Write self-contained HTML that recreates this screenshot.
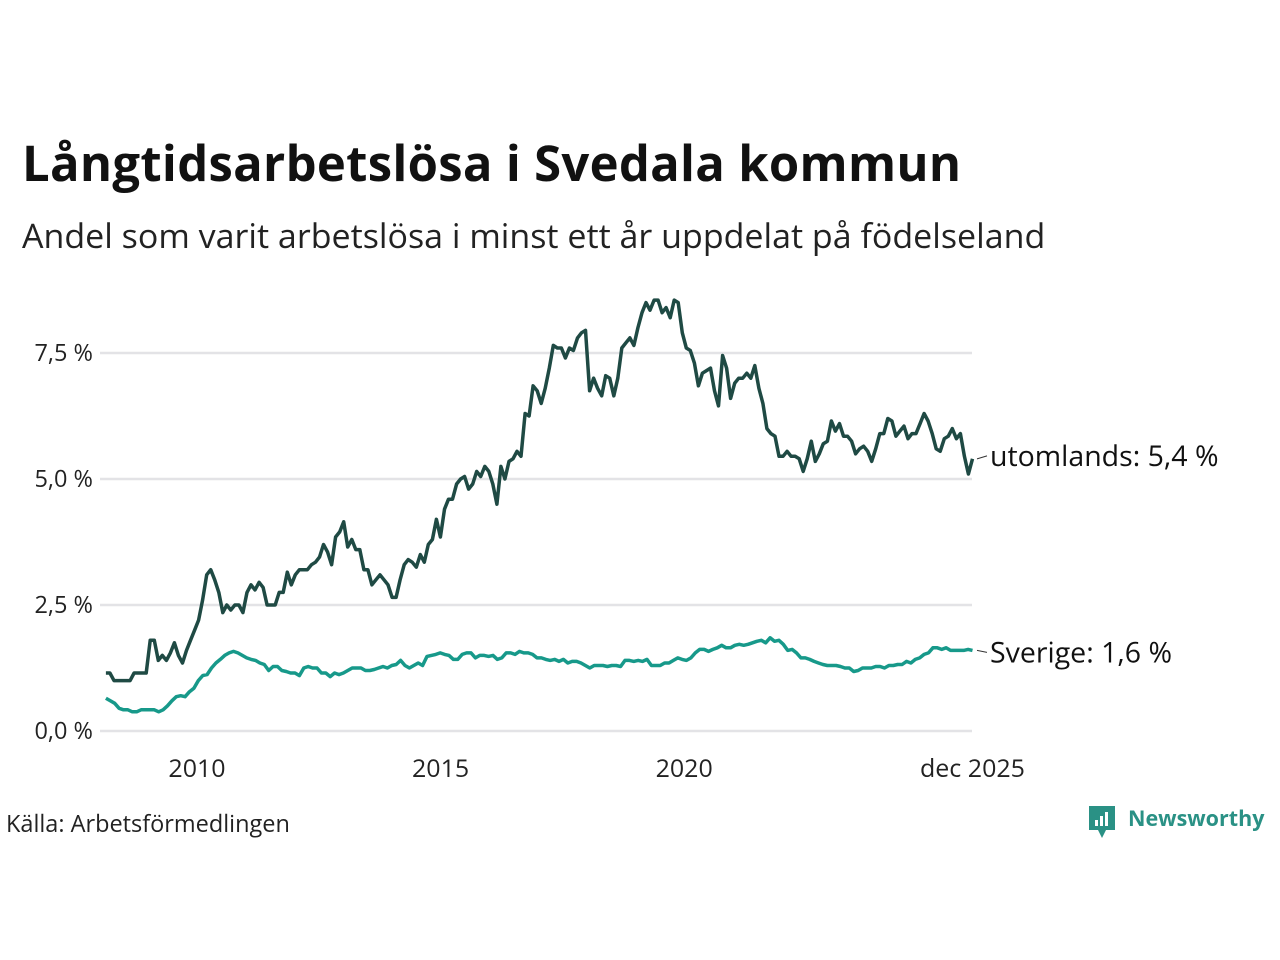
<!DOCTYPE html>
<html><head><meta charset="utf-8">
<style>
body{margin:0;background:#fff;font-family:"Open Sans","Liberation Sans",sans-serif;}
#wrap{position:relative;width:1280px;height:960px;overflow:hidden;}
.t{position:absolute;white-space:nowrap;color:#111;}
</style></head><body>
<div id="wrap">
<div class="t" style="left:22px;top:130px;font-size:49px;font-weight:bold;letter-spacing:0.3px">Långtidsarbetslösa i Svedala kommun</div>
<div class="t" style="left:22px;top:212px;font-size:34px;color:#222">Andel som varit arbetslösa i minst ett år uppdelat på födelseland</div>
<svg id="chart" width="1280" height="960" style="position:absolute;left:0;top:0"></svg>
<div class="t" style="left:6px;top:807px;font-size:23.5px;color:#222">Källa: Arbetsförmedlingen</div>
<div style="position:absolute;left:1088px;top:804px;">
<svg width="30" height="36" style="position:absolute;left:0;top:0"><path d="M1 2h26v24h-9l-4 8-4-8H1z" fill="#2a9185"/><rect x="7" y="16" width="3" height="6" fill="#fff"/><rect x="12" y="12" width="3" height="10" fill="#fff"/><rect x="17" y="8" width="3" height="14" fill="#fff"/></svg>
<span class="t" style="left:40px;top:0;font-size:21.5px;font-weight:bold;color:#2a9185">Newsworthy</span>
</div>
</div>
<script>
const utomlands=[1.15,1.15,1.0,1.0,1.0,1.0,1.0,1.15,1.15,1.15,1.15,1.8,
1.8,1.4,1.5,1.4,1.55,1.75,1.5,1.35,1.6,1.8,2.0,2.2,
2.6,3.1,3.2,3.0,2.75,2.35,2.5,2.4,2.5,2.5,2.35,2.75,2.9,2.8,2.95,2.85,2.5,2.5,2.5,2.75,2.75,3.15,2.9,3.1,3.2,3.2,3.2,3.3,3.35,3.45,3.7,3.55,3.3,3.85,3.95,4.15,3.65,3.8,3.6,3.6,3.2,3.2,2.9,3.0,3.1,3.0,2.9,2.65,2.65,3.0,3.3,3.4,3.35,3.25,3.5,3.35,3.7,3.8,4.2,3.85,4.4,4.6,4.6,4.9,5.0,5.05,4.8,4.9,5.15,5.05,5.25,5.15,4.9,4.5,5.25,5.0,5.35,5.4,5.55,5.45,6.3,6.25,6.85,6.75,6.5,6.8,7.2,7.65,7.6,7.6,7.4,7.6,7.55,7.8,7.9,7.95,6.75,7.0,6.8,6.65,7.05,7.0,6.65,7.0,7.6,7.7,7.8,7.65,8.0,8.3,8.5,8.35,8.55,8.55,8.3,8.4,8.2,8.55,8.5,7.9,7.6,7.55,7.3,6.85,7.1,7.15,7.2,6.75,6.45,7.45,7.2,6.6,6.9,7.0,7.0,7.1,7.0,7.25,6.8,6.5,6.0,5.9,5.85,5.45,5.45,5.55,5.45,5.45,5.4,5.15,5.4,5.75,5.35,5.5,5.7,5.75,6.15,5.95,6.1,5.85,5.85,5.75,5.5,5.6,5.65,5.55,5.35,5.6,5.9,5.9,6.2,6.15,5.85,5.95,6.05,5.8,5.9,5.9,6.1,6.3,6.15,5.9,5.6,5.55,5.8,5.85,6.0,5.8,5.9,5.45,5.1,5.4];
const sverige=[0.65,0.6,0.55,0.45,0.42,0.42,0.38,0.38,0.42,0.42,0.42,0.42,0.38,0.42,0.5,0.6,0.68,0.7,0.68,0.78,0.85,1.0,1.1,1.12,1.25,1.35,1.42,1.5,1.55,1.58,1.55,1.5,1.45,1.42,1.4,1.35,1.32,1.2,1.28,1.28,1.2,1.18,1.15,1.15,1.1,1.25,1.28,1.25,1.25,1.15,1.15,1.08,1.15,1.12,1.15,1.2,1.25,1.25,1.25,1.2,1.2,1.22,1.25,1.28,1.25,1.3,1.32,1.4,1.3,1.25,1.3,1.35,1.3,1.48,1.5,1.52,1.55,1.52,1.5,1.42,1.42,1.52,1.55,1.55,1.45,1.5,1.5,1.48,1.5,1.42,1.45,1.55,1.55,1.52,1.58,1.55,1.55,1.52,1.45,1.45,1.42,1.4,1.42,1.38,1.42,1.35,1.38,1.38,1.35,1.3,1.25,1.3,1.3,1.3,1.28,1.3,1.3,1.28,1.4,1.4,1.38,1.4,1.38,1.42,1.3,1.3,1.3,1.35,1.35,1.4,1.45,1.42,1.4,1.45,1.55,1.62,1.62,1.58,1.62,1.65,1.7,1.65,1.65,1.7,1.72,1.7,1.72,1.75,1.78,1.8,1.75,1.85,1.78,1.8,1.72,1.6,1.62,1.55,1.45,1.45,1.42,1.38,1.35,1.32,1.3,1.3,1.3,1.28,1.25,1.25,1.18,1.2,1.25,1.25,1.25,1.28,1.28,1.25,1.3,1.3,1.32,1.32,1.38,1.35,1.42,1.45,1.52,1.55,1.65,1.65,1.62,1.65,1.6,1.6,1.6,1.6,1.62,1.6];
const yTicks=[0,2.5,5,7.5];
const yTickLabels=["0,0 %","2,5 %","5,0 %","7,5 %"];
const xTicks=[2010,2015,2020,2025.917];
const xTickLabels=["2010","2015","2020","dec 2025"];
const startDate=2008.13;
const endDate=2025.917;
const NS="http://www.w3.org/2000/svg";
const svg=document.getElementById('chart');
function xS(t){return 197+(t-2010)*48.72;}
function yS(v){return 731-v*50.4;}
function mk(tag,attrs){const e=document.createElementNS(NS,tag);for(const k in attrs)e.setAttribute(k,attrs[k]);svg.appendChild(e);return e;}
yTicks.forEach((v,i)=>{
 const g=mk('line',{x1:100,x2:972,y1:yS(v),y2:yS(v),stroke:'#e3e3e6','stroke-width':2.5});
 
 
 const t=mk('text',{x:93,y:yS(v)+8,'text-anchor':'end','font-size':23.5,fill:'#222','font-family':'"Open Sans","Liberation Sans",sans-serif'});
 t.textContent=yTickLabels[i];
 
 
});
xTicks.forEach((v,i)=>{
 const t=mk('text',{x:xS(v),y:777,'text-anchor':'middle','font-size':25,fill:'#222','font-family':'"Open Sans","Liberation Sans",sans-serif'});
 t.textContent=xTickLabels[i];
 
 
});
function drawLine(arr,color,name){
 const n=arr.length;
 const d=arr.map((v,i)=>(i?'L':'M')+xS(startDate+i*(endDate-startDate)/(n-1)).toFixed(1)+' '+yS(v).toFixed(1)).join(' ');
 const p=mk('path',{d:d,fill:'none',stroke:color,'stroke-width':3.5,'stroke-linejoin':'round'});
 
 
}
drawLine(sverige,'#17998a','sverige-line');
drawLine(utomlands,'#1f4a44','utomlands-line');
function label(arr,txt,name,dy){
 const y=yS(arr[arr.length-1]);
 const l=mk('line',{x1:977,x2:987,y1:y,y2:y+dy,stroke:'#333','stroke-width':1});
 
 
 const t=mk('text',{x:990,y:y+dy+10,'font-size':28.5,fill:'#111','font-family':'"Open Sans","Liberation Sans",sans-serif'});
 t.textContent=txt;
 
 
}
label(utomlands,'utomlands: 5,4 %','utomlands-label',-3);
label(sverige,'Sverige: 1,6 %','sverige-label',2);
</script>
</body></html>
